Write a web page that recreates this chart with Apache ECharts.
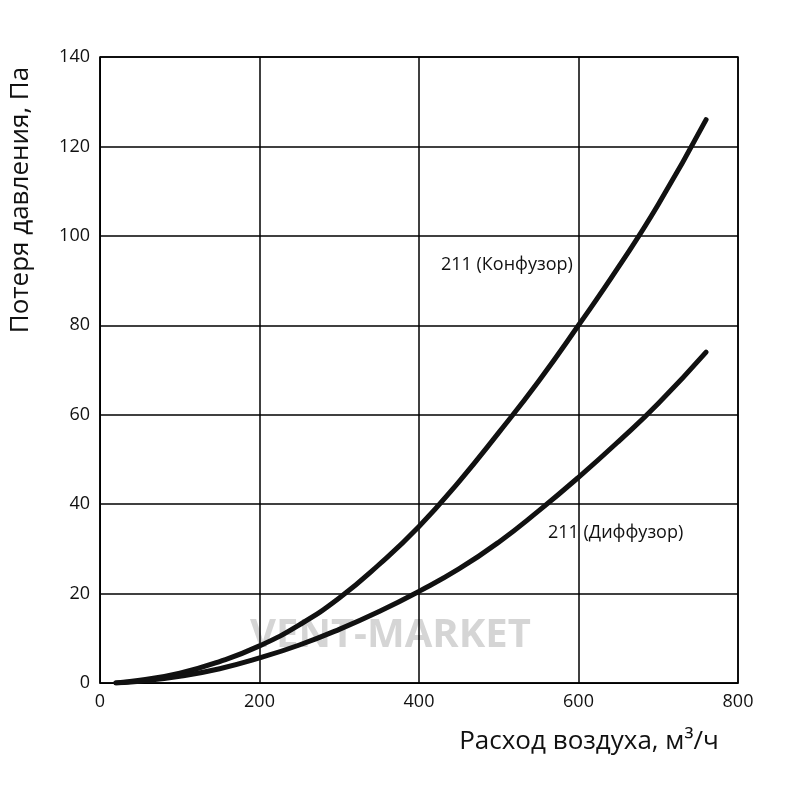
<!DOCTYPE html>
<html><head><meta charset="utf-8">
<script src="https://cdn.jsdelivr.net/npm/echarts@6/dist/echarts.min.js"></script>
<style>body{margin:0}#c{width:800px;height:800px}</style></head>
<body><div id="c"></div>
<script>
const xFlow = [20, 50, 100, 150, 200, 250, 300, 350, 400, 450, 500, 550, 600, 650, 700, 760];
const konfuzor = [0, 0.6, 2.2, 4.8, 8.3, 13, 19, 26.5, 35, 45, 56, 67.5, 80, 93, 107, 126];
const diffuzor = [0, 0.4, 1.5, 3.2, 5.6, 8.5, 12, 16, 20.5, 25.5, 31.5, 38.5, 46, 54, 62.5, 74];
const xTicks = [0, 200, 400, 600, 800];
const yTicks = [0, 20, 40, 60, 80, 100, 120, 140];
const font = '"Open Sans", "DejaVu Sans", sans-serif';
const chart = echarts.init(document.getElementById('c'));
chart.setOption({
  animation: false,
  grid: {left: 100, right: 62, top: 57, bottom: 117, show: true, borderColor: '#000', borderWidth: 1.5},
  xAxis: {type: 'value', min: 0, max: 800, interval: 200,
    name: 'Расход воздуха, м³/ч', nameLocation: 'middle', nameGap: 46,
    nameTextStyle: {fontSize: 26, color: '#111', fontFamily: font, padding: [0, 0, 0, 340]},
    axisLine: {lineStyle: {color: '#000'}}, axisTick: {show: false},
    axisLabel: {fontSize: 18, color: '#111', fontFamily: font, margin: 10},
    splitLine: {lineStyle: {color: '#000', width: 1.5}}},
  yAxis: {type: 'value', min: 0, max: 140, interval: 20,
    name: 'Потеря давления, Па', nameLocation: 'middle', nameGap: 66,
    nameTextStyle: {fontSize: 26, color: '#111', fontFamily: font, padding: [0, 0, 0, 340]},
    axisLine: {lineStyle: {color: '#000'}}, axisTick: {show: false},
    axisLabel: {fontSize: 18, color: '#111', fontFamily: font, margin: 10},
    splitLine: {lineStyle: {color: '#000', width: 1.5}}},
  graphic: [
    {type: 'text', left: 250, top: 616, style: {text: 'VENT-MARKET', font: 'bold 40px ' + font, fill: 'rgba(150,150,150,0.4)'}, z: 0},
    {type: 'text', left: 441, top: 256, style: {text: '211 (Конфузор)', font: '18px ' + font, fill: '#111'}},
    {type: 'text', left: 548, top: 524, style: {text: '211 (Диффузор)', font: '18px ' + font, fill: '#111'}}
  ],
  series: [
    {type: 'line', smooth: true, symbol: 'none', data: xFlow.map((x, i) => [x, konfuzor[i]]), lineStyle: {color: '#111', width: 5, cap: 'round'}},
    {type: 'line', smooth: true, symbol: 'none', data: xFlow.map((x, i) => [x, diffuzor[i]]), lineStyle: {color: '#111', width: 5, cap: 'round'}}
  ]
});
</script></body></html>
